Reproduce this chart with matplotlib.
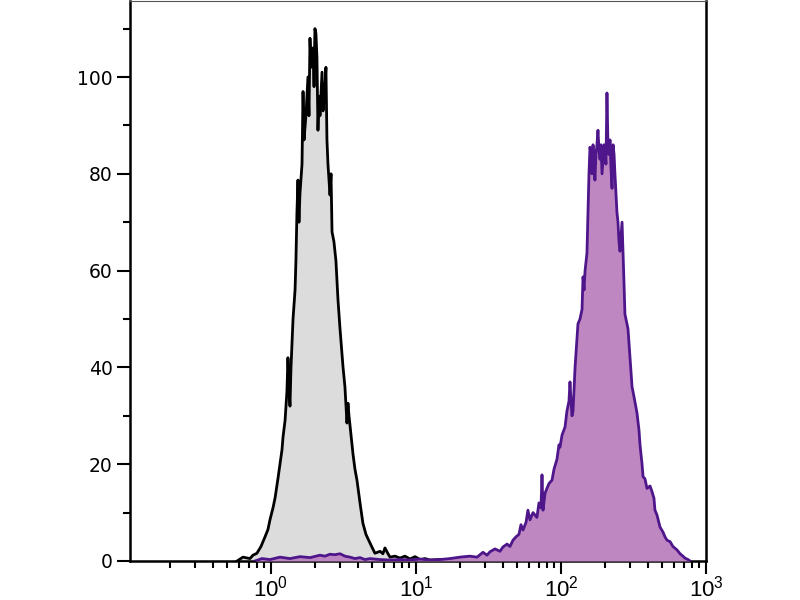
import numpy as np
import matplotlib
matplotlib.use("Agg")
import matplotlib.pyplot as plt
from matplotlib.ticker import LogLocator, FixedLocator, MultipleLocator

# --- data: log10 fluorescence intensity and event counts
gray_log = [-0.234, -0.193, -0.145, -0.124, -0.097, -0.069, -0.041, -0.021, -0.007, 0.014,
            0.028, 0.048, 0.062, 0.076, 0.083, 0.097, 0.110, 0.117, 0.124, 0.131,
            0.138, 0.152, 0.166, 0.172, 0.179, 0.186, 0.193, 0.200, 0.214, 0.221,
            0.228, 0.241, 0.255, 0.262, 0.269, 0.276, 0.290, 0.297, 0.303, 0.310,
            0.317, 0.324, 0.331, 0.338, 0.352, 0.359, 0.372, 0.379, 0.386, 0.393,
            0.407, 0.414, 0.421, 0.434, 0.448, 0.455, 0.462, 0.476, 0.497, 0.510,
            0.524, 0.531, 0.538, 0.552, 0.566, 0.579, 0.593, 0.614, 0.634, 0.655,
            0.683, 0.717, 0.752, 0.772, 0.786, 0.807, 0.821, 0.855, 0.890, 0.924,
            0.959, 0.993, 1.028, 1.062, 1.097, 1.166, 1.234]
gray_count = [0, 0.8, 0.5, 1.2, 1.6, 3.0, 5, 6.5, 8.5, 11,
              13, 17, 20, 23, 25.6, 29, 35, 42, 36, 32,
              40, 50, 56, 62, 72, 78.7, 70, 76, 82, 97,
              87, 92, 100, 92, 108, 102, 106, 98, 110, 109,
              104, 89, 96, 92, 101, 93, 98, 102, 87, 82,
              75.6, 80, 68, 66, 62, 58, 54, 48, 40, 36,
              28.5, 32.6, 30, 26, 22, 19, 16.7, 12, 7.8, 5.5,
              3.7, 1.6, 2.0, 1.5, 2.7, 1.5, 0.8, 1.0, 0.6, 1.0,
              0.4, 0.9, 0.3, 0.5, 0.2, 0.3, 0]

purple_log = [-0.110, -0.062, -0.007, 0.062, 0.131, 0.200, 0.269, 0.338, 0.372, 0.407,
              0.441, 0.476, 0.510, 0.545, 0.579, 0.614, 0.648, 0.683, 0.752, 0.821,
              0.890, 0.959, 1.028, 1.097, 1.166, 1.234, 1.303, 1.372, 1.421, 1.462,
              1.490, 1.510, 1.545, 1.579, 1.600, 1.628, 1.648, 1.669, 1.690, 1.710,
              1.724, 1.738, 1.759, 1.772, 1.786, 1.807, 1.821, 1.834, 1.848, 1.862,
              1.869, 1.876, 1.890, 1.903, 1.917, 1.938, 1.952, 1.972, 1.986, 1.993,
              2.007, 2.028, 2.041, 2.055, 2.062, 2.069, 2.076, 2.083, 2.097, 2.110,
              2.117, 2.131, 2.145, 2.152, 2.159, 2.166, 2.179, 2.186, 2.193, 2.200,
              2.207, 2.214, 2.221, 2.228, 2.234, 2.241, 2.248, 2.255, 2.262, 2.269,
              2.276, 2.283, 2.290, 2.297, 2.303, 2.310, 2.317, 2.324, 2.331, 2.338,
              2.345, 2.352, 2.359, 2.366, 2.372, 2.379, 2.386, 2.393, 2.400, 2.407,
              2.414, 2.421, 2.428, 2.434, 2.441, 2.455, 2.462, 2.476, 2.490, 2.503,
              2.524, 2.538, 2.545, 2.559, 2.566, 2.579, 2.593, 2.614, 2.628, 2.641,
              2.648, 2.662, 2.683, 2.703, 2.717, 2.731, 2.752, 2.772, 2.800, 2.821,
              2.841, 2.855, 2.876, 2.890]
purple_count = [0, 0.5, 0.3, 0.8, 0.5, 0.9, 0.7, 1.2, 1.0, 1.4,
                1.3, 1.5, 1.0, 0.8, 0.5, 0.7, 0.3, 0.5, 0.3, 0.2,
                0.3, 0.2, 0.4, 0.2, 0.3, 0.5, 0.8, 1.0, 0.8, 1.8,
                1.2, 1.9, 2.5, 2.0, 2.9, 3.5, 3.0, 4.3, 5.0, 5.5,
                7.5, 6.4, 8.0, 10.5, 8.5, 10, 9.5, 9, 12, 11,
                17.8, 10.5, 14, 15, 16, 16.7, 19, 21, 24, 23.5,
                26, 27.7, 31, 33, 37, 33, 30, 31, 40, 46,
                49, 50, 52, 58.7, 56, 60, 63.6, 72, 80, 85.5,
                84, 80, 86, 82, 78.7, 84, 86, 89, 85, 83,
                86, 80, 83, 86, 85.5, 82, 96.7, 86, 84, 87,
                81, 77, 86, 84, 80, 76, 72, 70, 66, 64,
                67, 70, 63.6, 58, 51, 49, 48, 42, 36, 34,
                30.6, 27, 24, 20, 17.4, 17, 15, 15.5, 14.3, 13,
                10.5, 9.5, 7, 6, 5, 4.3, 4, 3, 2.3, 1.5,
                1.0, 0.6, 0.3, 0]

y_ticks = [0, 20, 40, 60, 80, 100]
x_ticks = [1, 10, 100, 1000]
x_ticklabels = [r'$\mathregular{10^{0}}$', r'$\mathregular{10^{1}}$',
                r'$\mathregular{10^{2}}$', r'$\mathregular{10^{3}}$']

# --- styling
plt.rcParams['mathtext.fontset'] = 'custom'
plt.rcParams['mathtext.rm'] = 'Liberation Sans'

fig = plt.figure(figsize=(8, 6), dpi=100)
ax = fig.add_axes([0.1625, 0.065, 0.72, 0.9333])

gx = 10 ** np.array(gray_log)
px = 10 ** np.array(purple_log)

ax.fill_between(gx, 0, gray_count, color='#dcdcdc', lw=0, zorder=1)
ax.plot(gx, gray_count, color='black', lw=2.0, zorder=2)
ax.fill_between(px, 0, purple_count, color='#be87c2', lw=0, zorder=3)
ax.plot(px, purple_count, color='#4e168a', lw=2.0, zorder=4)

ax.set_xscale('log')
ax.set_xlim(0.1066, 1000)
ax.set_ylim(0, 115.7)

ax.xaxis.set_major_locator(FixedLocator(x_ticks))
ax.set_xticklabels(x_ticklabels, fontfamily='Liberation Sans', fontsize=16)
ax.xaxis.set_minor_locator(LogLocator(base=10, subs=np.arange(2, 10), numticks=20))
ax.xaxis.set_minor_formatter(plt.NullFormatter())

ax.yaxis.set_major_locator(FixedLocator(y_ticks))
ax.yaxis.set_minor_locator(MultipleLocator(10))
ax.set_yticklabels([str(v) for v in y_ticks], fontfamily='DejaVu Sans', fontsize=13.5)

ax.tick_params(axis='both', which='major', length=9.5, width=1.5, color='black', pad=3)
ax.tick_params(axis='both', which='minor', length=5, width=1.5, color='black')
ax.tick_params(axis='x', which='major', pad=1)

for side in ['left', 'bottom', 'right']:
    ax.spines[side].set_linewidth(1.8)
    ax.spines[side].set_color('black')
ax.spines['top'].set_linewidth(0.8)
ax.spines['top'].set_color('#555555')

fig.savefig('out.png', dpi=100)
